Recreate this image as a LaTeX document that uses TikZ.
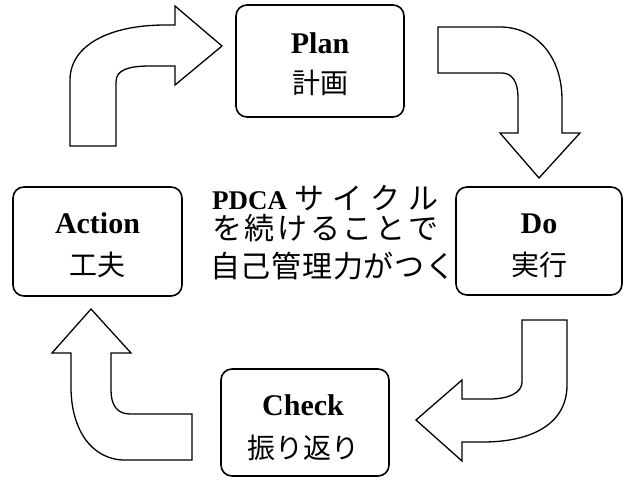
\documentclass[tikz,border=0pt]{standalone}
\usepackage{fontspec}
\setmainfont{Liberation Serif}
\newfontfamily\jp{Noto Sans CJK JP}
\begin{document}
\begin{tikzpicture}[x=1pt,y=-1pt,
  box/.style={draw, line width=1.6pt, rounded corners=11pt, inner sep=0pt},
  arr/.style={draw, line width=1.3pt, line join=miter, fill=white},
  lat/.style={anchor=base, inner sep=0pt, font=\fontsize{30}{30}\selectfont\bfseries},
  jpl/.style={anchor=base, inner sep=0pt, font=\fontsize{28}{28}\selectfont\jp},
  ctr/.style={anchor=base west, inner sep=0pt, font=\fontsize{30}{30}\selectfont\jp}]
\path[fill=white] (0,0) rectangle (629,477);
\useasboundingbox (0,0) rectangle (629,477);

% boxes
\node[box, minimum width=168pt, minimum height=112pt] (plan) at (320,61) {};
\node[box, minimum width=166pt, minimum height=108pt] (do) at (539,241) {};
\node[box, minimum width=169pt, minimum height=109pt] (act) at (97.5,241.5) {};
\node[box, minimum width=168pt, minimum height=107pt] (chk) at (305,422.5) {};

% labels
\node[lat] (planA) at (320,53) {Plan};
\node[jpl] (planB) at (320,93.6) {計画};
\node[lat] (doA) at (539,233) {Do};
\node[jpl] (doB) at (539,275.6) {実行};
\node[lat] (actA) at (97.5,233) {Action};
\node[jpl] (actB) at (97.5,275.6) {工夫};
\node[lat] (chkA) at (303,415) {Check};
\node[jpl] (chkB) at (303,458.6) {振り返り};

% centre text
\node[ctr] (c1) at (212,209) {\makebox[226pt][s]{{\fontspec{Liberation Serif}\bfseries\fontsize{27}{27}\selectfont PDCA}\hfill サ\hfill イ\hfill ク\hfill ル}};
\node[ctr] (c2) at (212,239) {\makebox[226pt][s]{を\hfill 続\hfill け\hfill る\hfill こ\hfill と\hfill で}};
\node[ctr] (c3) at (210,277) {\makebox[245pt][s]{自\hfill 己\hfill 管\hfill 理\hfill 力\hfill が\hfill つ\hfill く}};

% arrows
\draw[arr] (70,146) -- (70,80) .. controls (70,45) and (110,25) .. (165,25) -- (175,25) -- (175,6) -- (222,46) -- (175,85) -- (175,66) -- (150,66) .. controls (128,66) and (116,70) .. (116,82) -- (116,146) -- cycle;
\draw[arr] (438,27) -- (500,27) .. controls (535,27) and (562,55) .. (562,100) -- (562,133) -- (580,133) -- (539,178) -- (500,133) -- (518,133) -- (518,97) .. controls (518,82) and (512,73) .. (502,73) -- (438,73) -- cycle;
\draw[arr] (522,320) -- (567,320) -- (567,385) .. controls (567,425) and (530,442) .. (483,442) -- (462,442) -- (462,461) -- (416,420) -- (462,380) -- (462,399) -- (490,399) .. controls (508,399) and (522,393) .. (522,382) -- cycle;
\draw[arr] (192,460) -- (125,460) .. controls (92,460) and (71,430) .. (71,387) -- (71,353) -- (52,353) -- (91,309) -- (131,353) -- (111,353) -- (111,390) .. controls (111,405) and (117,414) .. (130,414) -- (192,414) -- cycle;
\end{tikzpicture}
\end{document}
